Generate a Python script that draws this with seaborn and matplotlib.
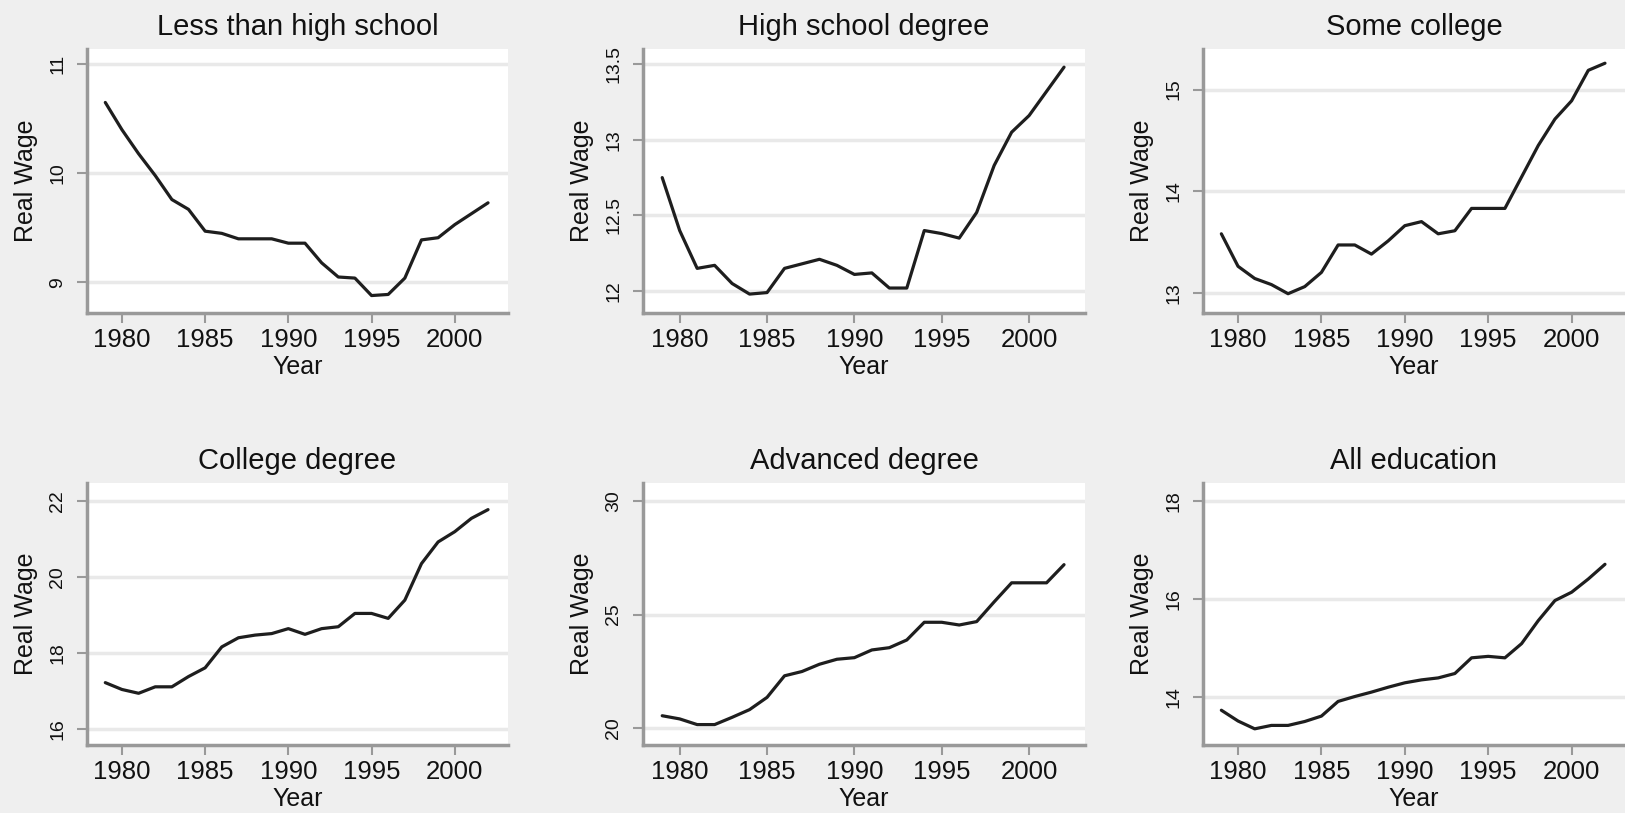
import matplotlib
matplotlib.use("Agg")
import matplotlib.pyplot as plt
import numpy as np
import pandas as pd
import seaborn as sns
from matplotlib.ticker import FixedLocator, FuncFormatter

# ---------------- data ----------------
years = list(range(1979, 2003))

less_than_hs = [10.65, 10.40, 10.18, 9.98, 9.76, 9.67, 9.47, 9.45, 9.40, 9.40,
                9.40, 9.36, 9.36, 9.18, 9.05, 9.04, 8.88, 8.89, 9.04, 9.39,
                9.41, 9.53, 9.63, 9.73]
high_school = [12.75, 12.40, 12.15, 12.17, 12.05, 11.98, 11.99, 12.15, 12.18, 12.21,
               12.17, 12.11, 12.12, 12.02, 12.02, 12.40, 12.38, 12.35, 12.52, 12.83,
               13.05, 13.16, 13.32, 13.48]
some_college = [13.58, 13.26, 13.14, 13.08, 12.99, 13.06, 13.20, 13.47, 13.47, 13.38,
                13.51, 13.66, 13.70, 13.58, 13.61, 13.83, 13.83, 13.83, 14.14, 14.45,
                14.71, 14.89, 15.19, 15.26]
college = [17.22, 17.04, 16.94, 17.11, 17.11, 17.38, 17.61, 18.16, 18.40, 18.47,
           18.51, 18.64, 18.49, 18.64, 18.69, 19.04, 19.04, 18.91, 19.39, 20.35,
           20.92, 21.19, 21.54, 21.77]
advanced = [20.54, 20.40, 20.15, 20.15, 20.47, 20.81, 21.35, 22.30, 22.49, 22.81,
            23.03, 23.10, 23.44, 23.54, 23.88, 24.66, 24.66, 24.54, 24.69, 25.56,
            26.40, 26.40, 26.40, 27.20]
all_education = [13.73, 13.51, 13.35, 13.42, 13.42, 13.50, 13.61, 13.91, 14.01, 14.10,
                 14.20, 14.29, 14.35, 14.39, 14.48, 14.80, 14.83, 14.80, 15.09, 15.56,
                 15.97, 16.14, 16.41, 16.71]

titles = ["Less than high school", "High school degree", "Some college",
          "College degree", "Advanced degree", "All education"]
series = [less_than_hs, high_school, some_college, college, advanced, all_education]
y_ticks = [[9, 10, 11], [12, 12.5, 13, 13.5], [13, 14, 15],
           [16, 18, 20, 22], [20, 25, 30], [14, 16, 18]]
y_limits = [(8.72, 11.14), (11.855, 13.6), (12.80, 15.40),
            (15.58, 22.47), (19.25, 30.8), (13.02, 18.37)]
x_ticks = [1980, 1985, 1990, 1995, 2000]
x_limits = (1977.9, 2003.2)

# ---------------- style ----------------
sns.set_theme(style="white")
plt.rcParams["font.family"] = ["Liberation Sans", "DejaVu Sans"]

W, H = 1625, 813
fig = plt.figure(figsize=(W / 100, H / 100), dpi=100, facecolor="#efefef")

col_px = [(87, 508), (643, 1085), (1203, 1625)]
row_px = [(49, 313), (483, 745)]

spine_c = "#999999"
for i, (title, vals) in enumerate(zip(titles, series)):
    r, c = divmod(i, 3)
    l, rr = col_px[c]
    t, b = row_px[r]
    wpx, hpx = rr - l, b - t
    ax = fig.add_axes([l / W, 1 - b / H, wpx / W, hpx / H])
    ax.set_facecolor("white")

    df = pd.DataFrame({"Year": years, "Real Wage": vals})
    sns.lineplot(data=df, x="Year", y="Real Wage", ax=ax, color="#1e1e1e",
                 linewidth=2.3)

    ax.set_xlim(*x_limits)
    ax.set_ylim(*y_limits[i])
    ax.xaxis.set_major_locator(FixedLocator(x_ticks))
    ax.yaxis.set_major_locator(FixedLocator(y_ticks[i]))
    ax.yaxis.set_major_formatter(FuncFormatter(lambda v, p: f"{v:g}"))
    ax.xaxis.set_major_formatter(FuncFormatter(lambda v, p: f"{int(v)}"))

    ax.grid(False)
    ax.yaxis.grid(True, color="#e9e9e9", linewidth=2.5)
    ax.set_axisbelow(True)

    for s in ["top", "right"]:
        ax.spines[s].set_visible(False)
    for s in ["left", "bottom"]:
        ax.spines[s].set_color(spine_c)
        ax.spines[s].set_linewidth(2.5)

    ax.tick_params(axis="x", direction="out", length=7, width=1.5, color=spine_c,
                   labelsize=18.5, pad=4, labelcolor="#111111", bottom=True)
    ax.tick_params(axis="y", direction="out", length=7, width=1.5, color=spine_c,
                   labelsize=14, pad=8, labelcolor="#111111", left=True,
                   labelrotation=90)
    for lab in ax.get_yticklabels():
        lab.set_va("center")

    ax.set_title(title, fontsize=21, pad=10, color="#111111")
    ax.set_xlabel("Year", fontsize=18, color="#111111")
    ax.set_ylabel("Real Wage", fontsize=18, color="#111111")
    ax.xaxis.label.set_va("center")
    ax.yaxis.label.set_va("center")
    ax.xaxis.set_label_coords(0.5, -54 / hpx)
    ax.yaxis.set_label_coords(-61 / wpx, 0.5)

fig.savefig("out.png", dpi=100, facecolor=fig.get_facecolor())
